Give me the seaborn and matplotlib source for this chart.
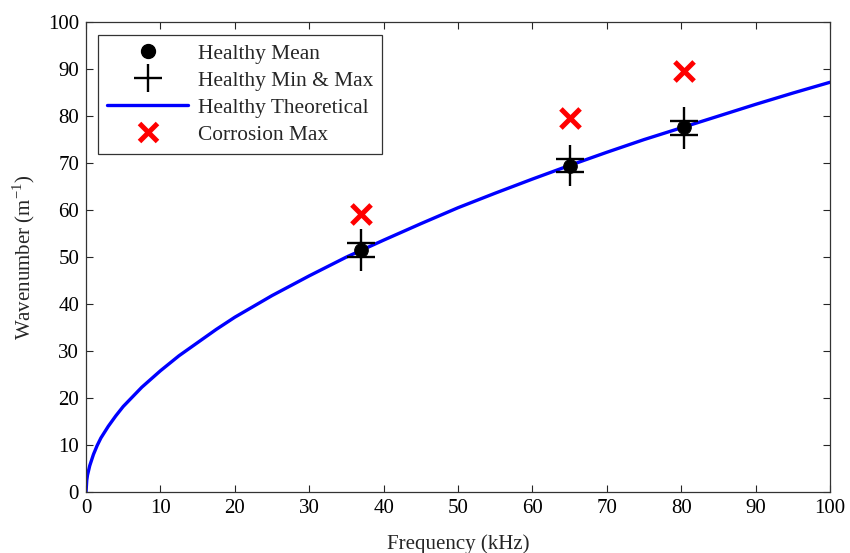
import numpy as np
import pandas as pd
import seaborn as sns
from matplotlib import pyplot as plt
from matplotlib.lines import Line2D

# theoretical dispersion curve
theory_freq = [0, 0.1, 0.2, 0.5, 1, 1.5, 2, 3, 4, 5, 7.5, 10, 12.5, 15, 17.5, 20,
               25, 30, 35, 40, 45, 50, 55, 60, 65, 70, 75, 80, 85, 90, 95, 100]
theory_k = [0, 2.5, 3.6, 5.6, 8.0, 9.9, 11.5, 14.0, 16.2, 18.2, 22.3, 25.8,
            29.0, 31.8, 34.6, 37.2, 41.8, 46.0, 50.0, 53.6, 57.1, 60.5, 63.6,
            66.6, 69.5, 72.3, 75.0, 77.5, 80.0, 82.5, 84.9, 87.2]

# measured points
test_freq = [36.9, 65.0, 80.4]
healthy_mean = [51.5, 69.4, 77.6]
healthy_min = [50.1, 68.0, 76.0]
healthy_max = [52.9, 70.9, 79.0]
corrosion_max = [59.1, 79.7, 89.6]


def main():
    sns.set_theme(style="ticks")
    plt.rcParams["font.family"] = ["Liberation Serif", "DejaVu Serif"]
    plt.rcParams["mathtext.fontset"] = "custom"
    plt.rcParams["mathtext.rm"] = "Liberation Serif"

    fs = 15
    fig = plt.figure(figsize=(8.5, 5.53), dpi=100)
    ax = fig.add_axes([0.1012, 0.1103, 0.8753, 0.8497])

    theory = pd.DataFrame({"f": theory_freq, "k": theory_k})
    minmax = pd.DataFrame({"f": test_freq * 2, "k": healthy_min + healthy_max})

    sns.lineplot(data=theory, x="f", y="k", color="#0000ff", linewidth=2.4,
                 sort=True, ax=ax, zorder=2)
    sns.scatterplot(x=test_freq, y=healthy_mean, color="black", marker="o",
                    s=95, edgecolor="black", ax=ax, zorder=3)
    sns.scatterplot(data=minmax, x="f", y="k", color="black", marker="+",
                    s=420, linewidth=1.7, ax=ax, zorder=4)
    sns.scatterplot(x=test_freq, y=corrosion_max, color="#ff0000", marker="x",
                    s=190, linewidth=3.6, ax=ax, zorder=4)

    ax.set_xlim(0, 100)
    ax.set_ylim(0, 100)
    ax.set_xticks(np.arange(0, 101, 10))
    ax.set_yticks(np.arange(0, 101, 10))
    ax.tick_params(direction="in", top=True, right=True, length=5,
                   width=0.8, labelsize=fs, colors="0.15", labelcolor="black",
                   pad=5)
    for sp in ax.spines.values():
        sp.set_linewidth(0.9)
        sp.set_color("0.2")

    ax.set_xlabel("Frequency (kHz)", fontsize=fs, labelpad=12)
    ax.set_ylabel("Wavenumber (m$^{\\mathregular{-1}}$)", fontsize=fs, labelpad=8)

    handles = [
        Line2D([], [], color="black", marker="o", linestyle="", markersize=10),
        Line2D([], [], color="black", marker="+", linestyle="", markersize=20,
               markeredgewidth=1.7),
        Line2D([], [], color="#0000ff", linewidth=2.4),
        Line2D([], [], color="#ff0000", marker="x", linestyle="", markersize=13,
               markeredgewidth=3.6),
    ]
    labels = ["Healthy Mean", "Healthy Min & Max", "Healthy Theoretical",
              "Corrosion Max"]
    leg = ax.legend(handles, labels, loc="upper left",
                    bbox_to_anchor=(0.016, 0.973), borderaxespad=0,
                    fontsize=15.4, frameon=True, fancybox=False,
                    edgecolor="black", handlelength=3.8, labelspacing=0.33,
                    borderpad=0.42, handletextpad=0.45)
    leg.get_frame().set_linewidth(0.9)

    fig.savefig("out.png", dpi=100)
    plt.close(fig)


if __name__ == "__main__":
    main()
